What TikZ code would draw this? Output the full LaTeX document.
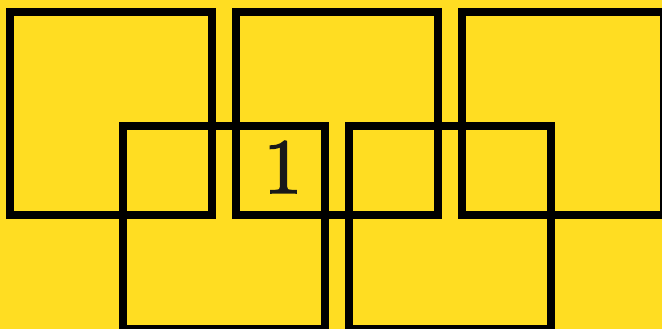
\documentclass[tikz,border=0pt]{standalone}
\usepackage{fontspec}
\newfontfamily\digitfont{lmroman10-regular.otf}[FakeBold=2]
\begin{document}
\definecolor{bgyellow}{RGB}{255,221,34}
\definecolor{txtdark}{RGB}{25,25,25}
\begin{tikzpicture}[x=1pt,y=1pt,
  sq/.style={draw=black,line width=8.5pt,minimum width=202pt,minimum height=203pt,inner sep=0pt,outer sep=0pt},
  lbl/.style={text=txtdark,font=\digitfont\fontsize{78}{78}\selectfont,inner sep=0pt}]
\useasboundingbox (0,0) rectangle (662,329);
\clip (0,0) rectangle (662,329);
\fill[bgyellow] (0,0) rectangle (662,329);
\node[sq] (A) at (111,215.5) {};
\node[sq] (B) at (337,215.5) {};
\node[sq] (C) at (563,215.5) {};
\node[sq] (D) at (224,101.5) {};
\node[sq] (E) at (450,101.5) {};
\node[lbl,anchor=base] (one) at (283,136) {1};
\end{tikzpicture}
\end{document}
